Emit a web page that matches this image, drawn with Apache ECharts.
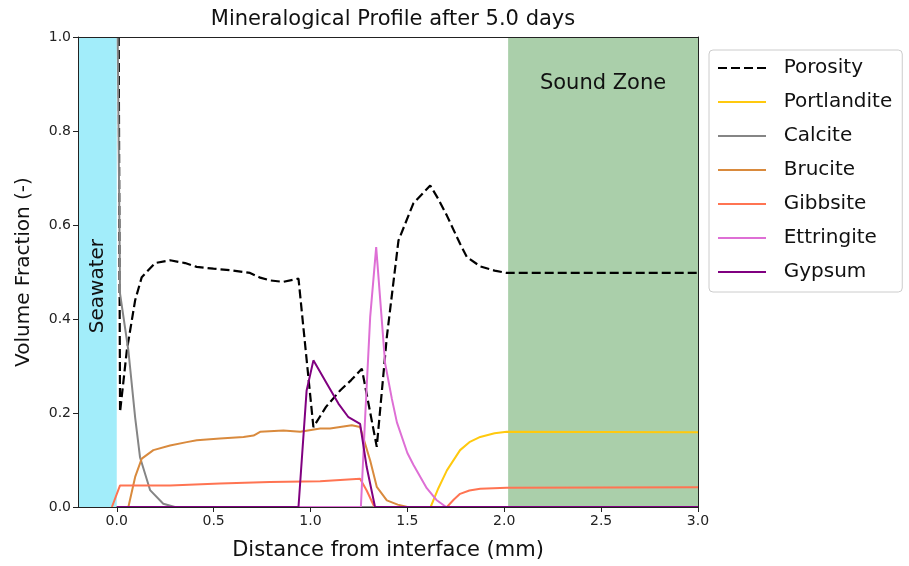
<!DOCTYPE html>
<html><head><meta charset="utf-8">
<script src="https://cdn.jsdelivr.net/npm/echarts@6/dist/echarts.min.js"></script>
<style>html,body{margin:0;padding:0;background:#fff}#c{width:909px;height:566px}</style>
</head><body><div id="c"></div>
<script>
const xTicks = [0.0, 0.5, 1.0, 1.5, 2.0, 2.5, 3.0];
const porosityX = [0.01, 0.017, 0.052, 0.095, 0.129, 0.198, 0.275, 0.353, 0.413, 0.499, 0.585, 0.688, 0.74, 0.792, 0.86, 0.938, 1.015, 1.08, 1.153, 1.21, 1.265, 1.342, 1.394, 1.454, 1.531, 1.618, 1.66, 1.704, 1.772, 1.807, 1.876, 1.95, 2.013, 2.5, 3.0];
const porosityY = [1.0, 0.202, 0.333, 0.44, 0.489, 0.519, 0.525, 0.519, 0.511, 0.507, 0.504, 0.498, 0.488, 0.482, 0.479, 0.486, 0.17, 0.213, 0.248, 0.27, 0.294, 0.128, 0.362, 0.567, 0.646, 0.684, 0.655, 0.62, 0.56, 0.532, 0.512, 0.503, 0.498, 0.498, 0.498];
const portlanditeX = [0, 1.62, 1.66, 1.704, 1.772, 1.82, 1.876, 1.95, 2.013, 3.0];
const portlanditeY = [0, 0, 0.04, 0.078, 0.121, 0.138, 0.149, 0.157, 0.16, 0.159];
const calciteX = [0.005, 0.017, 0.06, 0.095, 0.12, 0.172, 0.24, 0.3, 3.0];
const calciteY = [1.0, 0.454, 0.333, 0.19, 0.106, 0.036, 0.007, 0, 0];
const bruciteX = [0, 0.06, 0.095, 0.129, 0.189, 0.275, 0.361, 0.413, 0.533, 0.654, 0.706, 0.74, 0.86, 0.947, 1.05, 1.101, 1.213, 1.256, 1.308, 1.342, 1.394, 1.45, 1.5, 3.0];
const bruciteY = [0, 0, 0.064, 0.103, 0.121, 0.131, 0.138, 0.142, 0.146, 0.149, 0.152, 0.16, 0.163, 0.16, 0.167, 0.167, 0.174, 0.17, 0.099, 0.043, 0.014, 0.005, 0, 0];
const gibbsiteX = [-0.025, 0.017, 0.275, 0.533, 0.79, 1.05, 1.256, 1.29, 1.33, 1.704, 1.74, 1.772, 1.82, 1.876, 2.013, 3.0];
const gibbsiteY = [0, 0.046, 0.046, 0.05, 0.053, 0.055, 0.06, 0.035, 0, 0, 0.016, 0.028, 0.035, 0.039, 0.041, 0.042];
const ettringiteX = [0, 1.26, 1.282, 1.308, 1.339, 1.36, 1.385, 1.42, 1.446, 1.5, 1.531, 1.6, 1.65, 1.7, 3.0];
const ettringiteY = [0, 0, 0.19, 0.404, 0.553, 0.44, 0.306, 0.23, 0.18, 0.115, 0.09, 0.04, 0.015, 0, 0];
const gypsumX = [0, 0.938, 0.98, 1.015, 1.084, 1.144, 1.196, 1.256, 1.29, 1.333, 3.0];
const gypsumY = [0, 0, 0.248, 0.312, 0.263, 0.22, 0.191, 0.177, 0.085, 0, 0];
const seawaterRange = [-0.2, 0.0];
const soundRange = [2.02, 3.0];

const pairs = (xs, ys) => xs.map((x, i) => [x, ys[i]]);
const chart = echarts.init(document.getElementById('c'));
const font = 'DejaVu Sans';
function line(name, xs, ys, color, extra) {
  return Object.assign({
    name, type: 'line', data: pairs(xs, ys), symbol: 'none', animation: false,
    lineStyle: { color, width: 2 }, itemStyle: { color }, clip: true
  }, extra || {});
}
const frameAxis = { show: true, lineStyle: { color: '#222', width: 1 }, onZero: false };
const option = {
  animation: false,
  textStyle: { fontFamily: font },
  title: { text: 'Mineralogical Profile after 5.0 days', left: 388, top: 4, textAlign: 'center',
    textStyle: { fontFamily: font, fontSize: 21, fontWeight: 'normal', color: '#111' } },
  grid: { left: 78, right: 211, top: 37, bottom: 59 },
  legend: {
    orient: 'vertical', left: 709, top: 50, padding: [8, 10, 10, 8],
    borderColor: '#ccc', borderWidth: 1, borderRadius: 4, backgroundColor: '#fff',
    itemWidth: 48, itemHeight: 14, itemGap: 14,
    itemStyle: { opacity: 0 },
    formatter: n => '  ' + n,
    textStyle: { fontFamily: font, fontSize: 20, color: '#111' },
    data: ['Porosity', 'Portlandite', 'Calcite', 'Brucite', 'Gibbsite', 'Ettringite', 'Gypsum']
  },
  xAxis: [{
    type: 'value', min: -0.2, max: 3.0, z: 5,
    name: 'Distance from interface (mm)', nameLocation: 'middle', nameGap: 33,
    nameTextStyle: { fontFamily: font, fontSize: 21, color: '#111' },
    splitLine: { show: false },
    axisLine: frameAxis,
    axisTick: { show: true, customValues: xTicks, length: 5, lineStyle: { color: '#222' } },
    axisLabel: { customValues: xTicks, formatter: v => v.toFixed(1), fontSize: 14, color: '#222', margin: 7 }
  }, {
    type: 'value', min: -0.2, max: 3.0, position: 'top', z: 5,
    splitLine: { show: false }, axisLine: frameAxis, axisTick: { show: false }, axisLabel: { show: false }
  }],
  yAxis: [{
    type: 'value', min: 0, max: 1, interval: 0.2, z: 5,
    name: 'Volume Fraction (-)', nameLocation: 'middle', nameGap: 44,
    nameTextStyle: { fontFamily: font, fontSize: 20, color: '#111' },
    splitLine: { show: false },
    axisLine: frameAxis,
    axisTick: { show: true, length: 5, lineStyle: { color: '#222' } },
    axisLabel: { formatter: v => v.toFixed(1), fontSize: 14, color: '#222', margin: 7 }
  }, {
    type: 'value', min: 0, max: 1, position: 'right', z: 5,
    splitLine: { show: false }, axisLine: frameAxis, axisTick: { show: false }, axisLabel: { show: false }
  }],
  series: [
    line('Porosity', porosityX, porosityY, '#000', {
      lineStyle: { color: '#000', width: 2.2, type: [9, 4] },
      markArea: {
        silent: true,
        data: [
          [{ xAxis: seawaterRange[0], yAxis: 0, itemStyle: { color: '#A2EDFA' },
             label: { show: true, position: ['50%', '53%'], rotate: 90, align: 'center', verticalAlign: 'middle',
               formatter: 'Seawater', fontFamily: font, fontSize: 20, color: '#111' } },
           { xAxis: seawaterRange[1], yAxis: 1 }],
          [{ xAxis: soundRange[0], yAxis: 0, itemStyle: { color: '#AACFAA' },
             label: { show: true, position: ['50%', 47], align: 'center', verticalAlign: 'middle',
               formatter: 'Sound Zone', fontFamily: font, fontSize: 21, color: '#111' } },
           { xAxis: soundRange[1], yAxis: 1 }]
        ]
      }
    }),
    line('Portlandite', portlanditeX, portlanditeY, '#FFC90E'),
    line('Calcite', calciteX, calciteY, '#858585'),
    line('Brucite', bruciteX, bruciteY, '#D98A3D'),
    line('Gibbsite', gibbsiteX, gibbsiteY, '#FF7452'),
    line('Ettringite', ettringiteX, ettringiteY, '#DE6FD5'),
    line('Gypsum', gypsumX, gypsumY, '#800080')
  ]
};
chart.setOption(option);
</script></body></html>
